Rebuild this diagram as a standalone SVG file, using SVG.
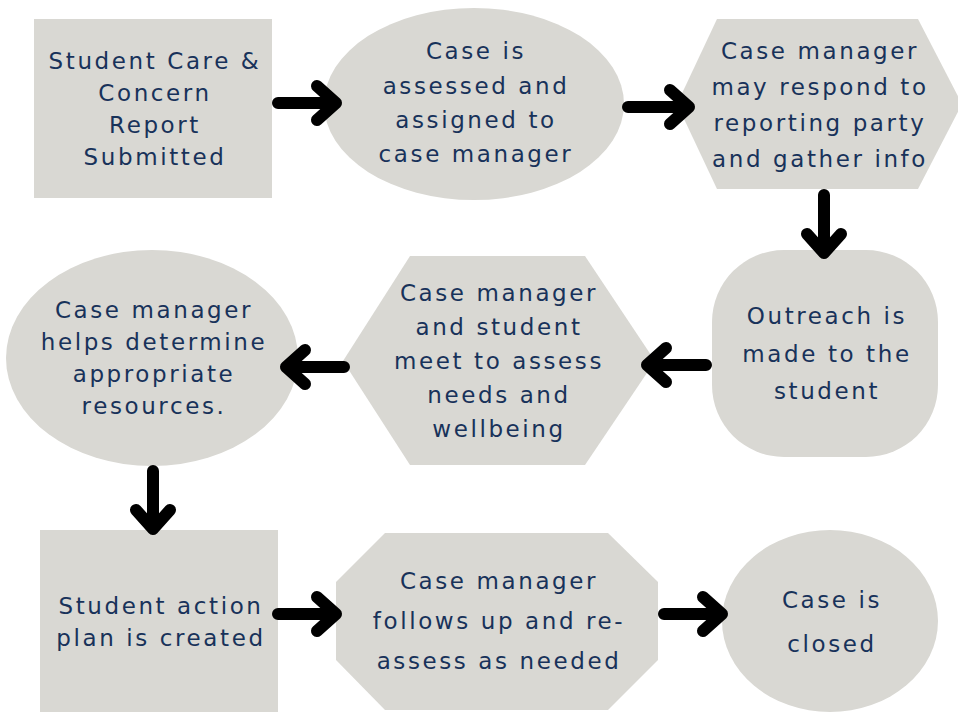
<svg xmlns="http://www.w3.org/2000/svg" width="958" height="712" viewBox="0 0 958 712">
<style>
.s{fill:#d9d8d3;stroke:none}
.t{font-family:"DejaVu Sans","Noto Sans","Liberation Sans",sans-serif;font-size:23px;letter-spacing:2.6px;fill:#18325a;text-anchor:middle}
.a{fill:none;stroke:#000;stroke-width:12;stroke-linecap:round;stroke-linejoin:round}
</style>
<rect width="958" height="712" fill="#fff"/>
<g id="n1"><rect class="s" x="34" y="19" width="238" height="179"/>
<text class="t"><tspan x="155" y="69">Student Care &amp;</tspan><tspan x="155" y="101">Concern</tspan><tspan x="155" y="133">Report</tspan><tspan x="155" y="165">Submitted</tspan></text></g>
<g id="n2"><ellipse class="s" cx="474" cy="104" rx="150" ry="96"/>
<text class="t"><tspan x="476" y="59">Case is</tspan><tspan x="476" y="94">assessed and</tspan><tspan x="476" y="128">assigned to</tspan><tspan x="476" y="162">case manager</tspan></text></g>
<g id="n3"><polygon class="s" points="717,19 918,19 962,104 918,189 717,189 677,104"/>
<text class="t"><tspan x="820" y="59">Case manager</tspan><tspan x="820" y="95">may respond to</tspan><tspan x="820" y="131">reporting party</tspan><tspan x="820" y="167">and gather info</tspan></text></g>
<g id="n4"><rect class="s" x="712" y="250" width="226" height="207" rx="72" ry="72"/>
<text class="t"><tspan x="827" y="324">Outreach is</tspan><tspan x="827" y="362">made to the</tspan><tspan x="827" y="399">student</tspan></text></g>
<g id="n5"><polygon class="s" points="410,256 585,256 655,361 585,465 410,465 343,361"/>
<text class="t"><tspan x="499" y="301">Case manager</tspan><tspan x="499" y="335">and student</tspan><tspan x="499" y="369">meet to assess</tspan><tspan x="499" y="403">needs and</tspan><tspan x="499" y="437">wellbeing</tspan></text></g>
<g id="n6"><ellipse class="s" cx="152" cy="358" rx="146" ry="108"/>
<text class="t"><tspan x="154" y="318">Case manager</tspan><tspan x="154" y="350">helps determine</tspan><tspan x="154" y="382">appropriate</tspan><tspan x="154" y="414">resources.</tspan></text></g>
<g id="n7"><rect class="s" x="40" y="530" width="238" height="182"/>
<text class="t"><tspan x="161" y="614">Student action</tspan><tspan x="161" y="646">plan is created</tspan></text></g>
<g id="n8"><polygon class="s" points="385,533 608,533 658,582 658,660 608,710 385,710 336,660 336,582"/>
<text class="t"><tspan x="499" y="589">Case manager</tspan><tspan x="499" y="629">follows up and re-</tspan><tspan x="499" y="669">assess as needed</tspan></text></g>
<g id="n9"><ellipse class="s" cx="830" cy="621" rx="108" ry="91"/>
<text class="t"><tspan x="832" y="608">Case is</tspan><tspan x="832" y="652">closed</tspan></text></g>
<g id="connectors">
<path class="a" d="M278,103 H334 M317,86 L336,103 L317,120"/>
<path class="a" d="M628,107 H686 M670,90 L689,107 L670,124"/>
<path class="a" d="M824,195 V250 M807,234 L824,253 L841,234"/>
<path class="a" d="M706,365 H650 M666,348 L647,365 L666,382"/>
<path class="a" d="M344,367 H290 M305,350 L286,367 L305,384"/>
<path class="a" d="M153,471 V526 M136,510 L153,529 L170,510"/>
<path class="a" d="M278,614 H334 M317,597 L336,614 L317,631"/>
<path class="a" d="M664,614 H720 M703,597 L722,614 L703,631"/>
</g>
</svg>
